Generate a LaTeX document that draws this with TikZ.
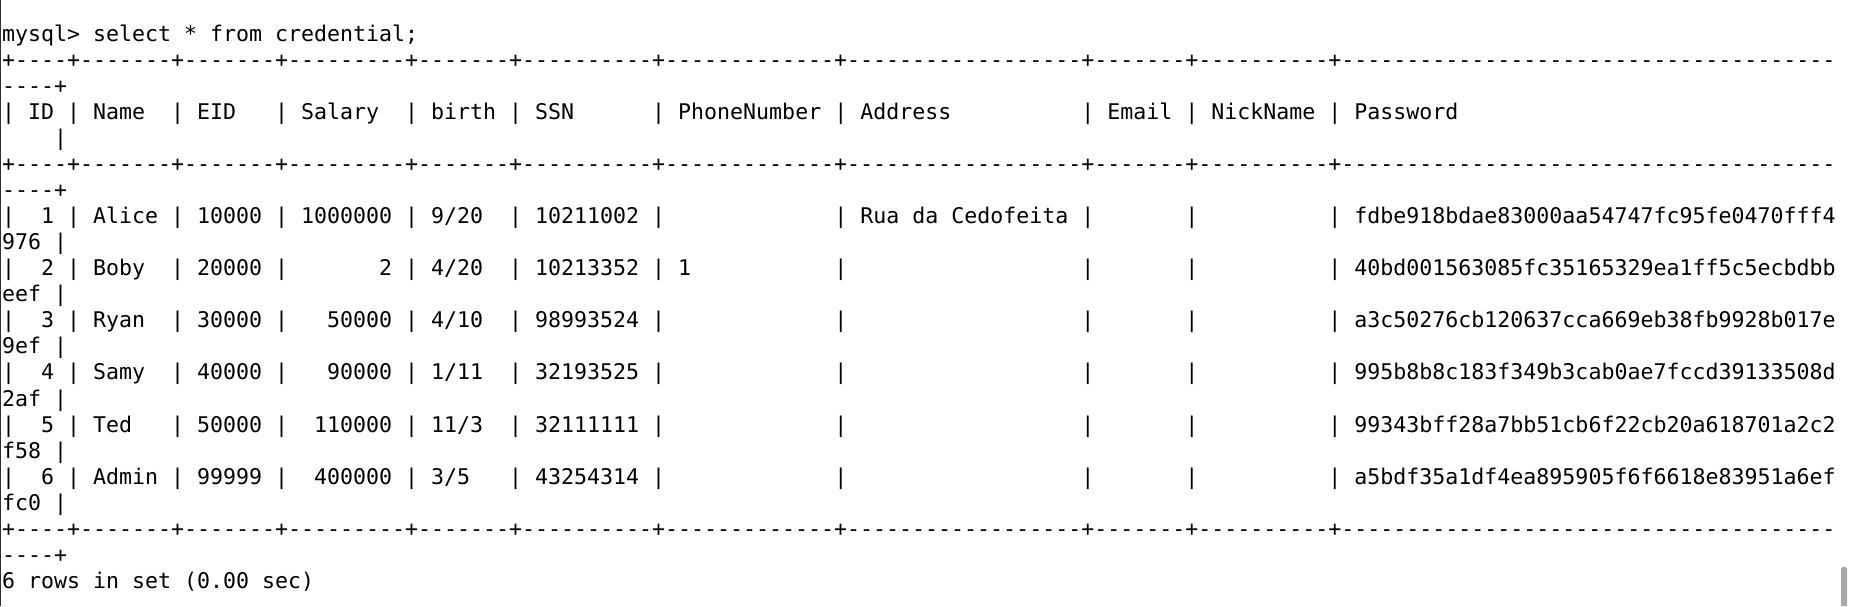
\documentclass[tikz,border=0pt]{standalone}
\usepackage{fontspec}
\setmonofont{DejaVu Sans Mono}
\newcommand\spc[1]{\ifnum#1>0 ~\expandafter\spc\expandafter{\the\numexpr#1-1\relax}\fi}
\newcommand\dsh[1]{\ifnum#1>0 -\expandafter\dsh\expandafter{\the\numexpr#1-1\relax}\fi}
\newcommand\bordline{+\dsh{4}+\dsh{7}+\dsh{7}+\dsh{9}+\dsh{7}+\dsh{10}+\dsh{13}+\dsh{18}+\dsh{7}+\dsh{10}+\dsh{38}}
\newcommand\emptytail{|\spc{13}|\spc{18}|\spc{7}|\spc{10}|~}
\tikzset{
  termline/.style={anchor=base west, inner sep=0pt, outer sep=0pt, text=black,
    font=\ttfamily\fontsize{21.6pt}{26pt}\selectfont},
}
\begin{document}
\begin{tikzpicture}[x=1pt,y=-1pt]
\useasboundingbox (0,0) rectangle (1850,606);
\fill[white] (0,0) rectangle (1850,606);
\fill[black!82] (0,0) rectangle (1.3,606);
\fill[black!34, rounded corners=2pt] (1841,567) -- (1841,606) -- (1847,606) -- (1847,567) -- cycle;
\fill[black!34] (1841,575) rectangle (1847,606);

\node[termline] (l1)  at (2,41.3)   {mysql>~select~*~from~credential;};
\node[termline] (l2)  at (2,67.35)  {\bordline};
\node[termline] (l3)  at (2,93.4)   {----+};
\node[termline] (l4)  at (2,119.45) {|~ID~|~Name\spc{2}|~EID\spc{3}|~Salary\spc{2}|~birth~|~SSN\spc{6}|~PhoneNumber~|~Address\spc{10}|~Email~|~NickName~|~Password};
\node[termline] (l5)  at (2,145.5)  {\spc{4}|};
\node[termline] (l6)  at (2,171.55) {\bordline};
\node[termline] (l7)  at (2,197.6)  {----+};
\node[termline] (l8)  at (2,223.65) {|\spc{2}1~|~Alice~|~10000~|~1000000~|~9/20\spc{2}|~10211002~|\spc{13}|~Rua~da~Cedofeita~|\spc{7}|\spc{10}|~fdbe918bdae83000aa54747fc95fe0470fff4};
\node[termline] (l9)  at (2,249.7)  {976~|};
\node[termline] (l10) at (2,275.75) {|\spc{2}2~|~Boby\spc{2}|~20000~|\spc{7}2~|~4/20\spc{2}|~10213352~|~1\spc{11}|\spc{18}|\spc{7}|\spc{10}|~40bd001563085fc35165329ea1ff5c5ecbdbb};
\node[termline] (l11) at (2,301.8)  {eef~|};
\node[termline] (l12) at (2,327.85) {|\spc{2}3~|~Ryan\spc{2}|~30000~|\spc{3}50000~|~4/10\spc{2}|~98993524~\emptytail a3c50276cb120637cca669eb38fb9928b017e};
\node[termline] (l13) at (2,353.9)  {9ef~|};
\node[termline] (l14) at (2,379.95) {|\spc{2}4~|~Samy\spc{2}|~40000~|\spc{3}90000~|~1/11\spc{2}|~32193525~\emptytail 995b8b8c183f349b3cab0ae7fccd39133508d};
\node[termline] (l15) at (2,406.0)  {2af~|};
\node[termline] (l16) at (2,432.05) {|\spc{2}5~|~Ted\spc{3}|~50000~|\spc{2}110000~|~11/3\spc{2}|~32111111~\emptytail 99343bff28a7bb51cb6f22cb20a618701a2c2};
\node[termline] (l17) at (2,458.1)  {f58~|};
\node[termline] (l18) at (2,484.15) {|\spc{2}6~|~Admin~|~99999~|\spc{2}400000~|~3/5\spc{3}|~43254314~\emptytail a5bdf35a1df4ea895905f6f6618e83951a6ef};
\node[termline] (l19) at (2,510.2)  {fc0~|};
\node[termline] (l20) at (2,536.25) {\bordline};
\node[termline] (l21) at (2,562.3)  {----+};
\node[termline] (l22) at (2,588.35) {6~rows~in~set~(0.00~sec)};
\end{tikzpicture}
\end{document}
